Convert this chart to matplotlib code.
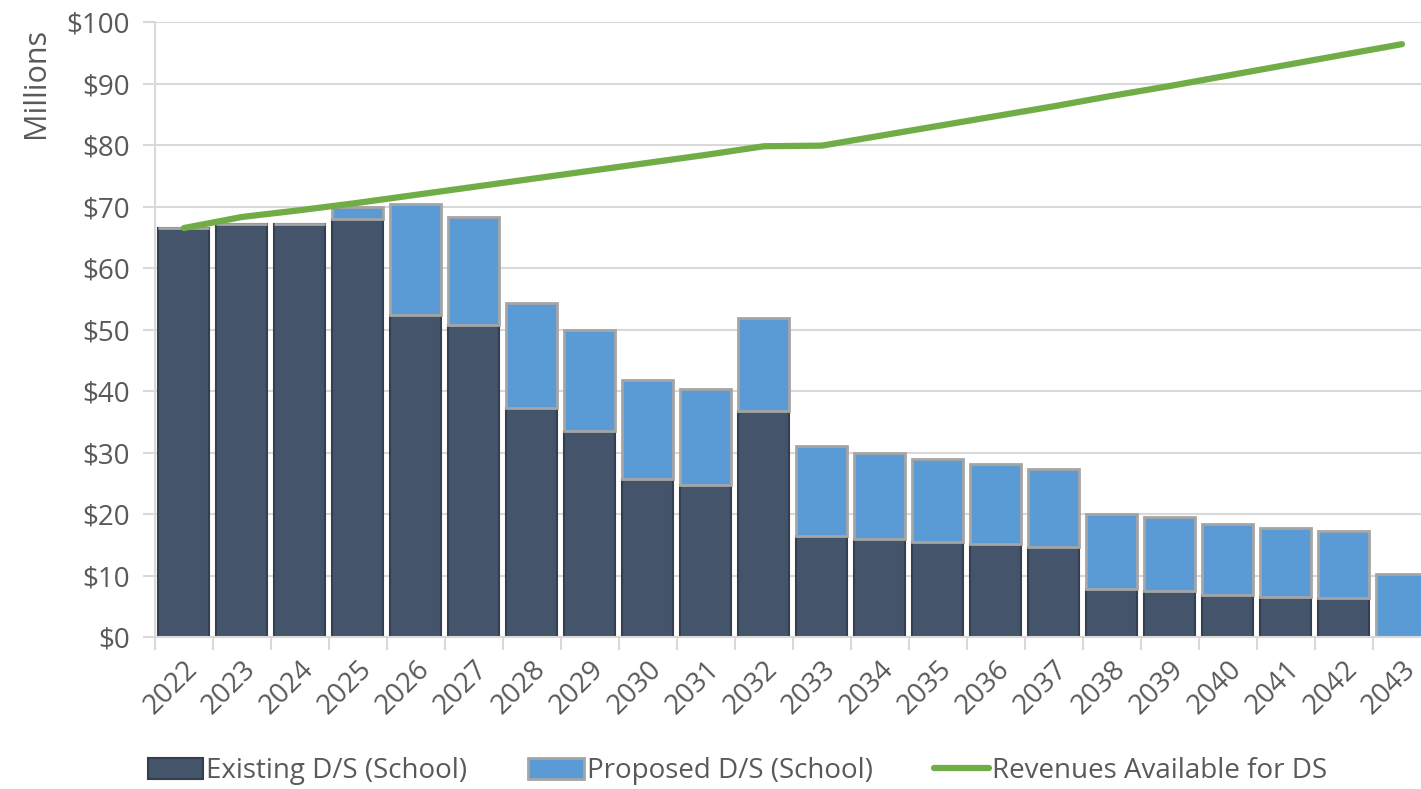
import numpy as np
import matplotlib.pyplot as plt
from matplotlib.ticker import FuncFormatter, MultipleLocator

# Debt service (millions) by fiscal year
years = list(range(2022, 2044))
existing_ds = [66.5, 67.2, 67.2, 68.0, 52.4, 50.7, 37.2, 33.5, 25.7, 24.7, 36.7,
               16.4, 15.9, 15.4, 15.1, 14.7, 7.75, 7.5, 6.8, 6.55, 6.3, 0.0]
total_ds = [66.5, 67.2, 67.2, 69.9, 70.4, 68.3, 54.3, 49.9, 41.8, 40.3, 51.9,
            31.1, 29.9, 29.0, 28.1, 27.4, 20.0, 19.5, 18.3, 17.8, 17.2, 10.3]
proposed_ds = [t - e for t, e in zip(total_ds, existing_ds)]
revenues = [66.5, 68.3, 69.4, 70.6, 71.9, 73.2, 74.5, 75.8, 77.1, 78.4, 79.8,
            79.9, 81.5, 83.1, 84.7, 86.3, 88.0, 89.6, 91.3, 93.0, 94.7, 96.4]

plt.rcParams['font.family'] = ['Open Sans', 'DejaVu Sans']
TXT = '#595959'
GRID = '#D9D9D9'

fig = plt.figure(figsize=(14.21, 7.89), dpi=100)
# plot area runs slightly past the right edge of the figure
ax = fig.add_axes([0.109, 0.1926, 0.898, 0.7795])

x = np.arange(len(years))
w = 0.88
b1 = ax.bar(x, existing_ds, width=w, color='#44546A', edgecolor='#333F50',
            linewidth=1.5, label='Existing D/S (School)', zorder=2)
b2 = ax.bar(x, proposed_ds, width=w, bottom=existing_ds, color='#5B9BD5',
            edgecolor='#A5A5A5', linewidth=2, label='Proposed D/S (School)',
            zorder=2)
ln, = ax.plot(x, revenues, color='#70AD47', linewidth=4.5,
              solid_capstyle='round', label='Revenues Available for DS',
              zorder=3)

ax.set_xlim(-0.5, len(years) - 0.5)
ax.set_ylim(0, 100)
ax.yaxis.set_major_locator(MultipleLocator(10))
ax.yaxis.set_major_formatter(FuncFormatter(lambda v, p: f'${v:.0f}'))
ax.grid(axis='y', color=GRID, linewidth=1.5, zorder=0)

ax.set_xticks(x)
ax.set_xticklabels([str(y) for y in years], rotation=45, ha='right',
                   rotation_mode='anchor')
ax.set_xticks(np.arange(-0.5, len(years)), minor=True)
ax.tick_params(axis='x', which='major', length=0, pad=13, labelsize=20,
               labelcolor=TXT)
ax.tick_params(axis='x', which='minor', length=9, width=1.5, color=GRID)
ax.tick_params(axis='y', length=9, width=1.5, color=GRID, labelsize=20,
               labelcolor=TXT, pad=9)

for side in ['top', 'right']:
    ax.spines[side].set_visible(False)
ax.spines['left'].set_color(GRID)
ax.spines['left'].set_linewidth(1.5)
ax.spines['bottom'].set_color(GRID)
ax.spines['bottom'].set_linewidth(1.5)

fig.text(0.025, 0.965, 'Millions', rotation=90, ha='center', va='top',
         fontsize=22, color=TXT)

fig.legend([b1, b2, ln], [b1.get_label(), b2.get_label(), ln.get_label()],
           loc='center', bbox_to_anchor=(0.519, 0.023), ncol=3, frameon=False,
           fontsize=20, labelcolor=TXT, handlelength=2.0, handleheight=0.8,
           handletextpad=0.1, columnspacing=2.2)

fig.savefig('out.png', dpi=100)
